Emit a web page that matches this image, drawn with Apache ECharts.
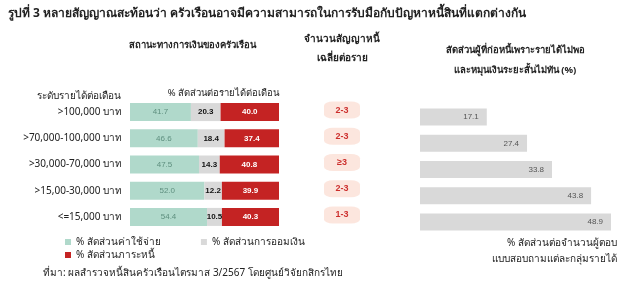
<!DOCTYPE html>
<html><head><meta charset="utf-8">
<script src="https://cdn.jsdelivr.net/npm/echarts@6/dist/echarts.min.js"></script>
<style>html,body{margin:0;padding:0;background:#fff}#c{width:640px;height:289px}</style>
</head><body><div id="c"></div>
<script>
var categories = ['>100,000 บาท', '>70,000-100,000 บาท', '>30,000-70,000 บาท', '>15,00-30,000 บาท', '<=15,000 บาท'];
var expense = [41.7, 46.6, 47.5, 52.0, 54.4];
var saving = [20.3, 18.4, 14.3, 12.2, 10.5];
var debt = [40.0, 37.4, 40.8, 39.9, 40.3];
var contracts = ['2-3', '2-3', '≥3', '2-3', '1-3'];
var insufficient = [17.1, 27.4, 33.8, 43.8, 48.9];

var FF = 'Tahoma, "Noto Sans", "Noto Sans CJK SC", sans-serif';
function share(arr, i) { return arr[i] / (expense[i] + saving[i] + debt[i]) * 100; }
function mk(arr) { return arr.map(function (v, i) { return { value: share(arr, i), raw: v }; }); }
function lbl(color, weight) {
  return { show: true, position: 'inside', fontSize: 8, fontFamily: 'Arial, sans-serif', color: color, fontWeight: weight,
    formatter: function (p) { return p.data.raw.toFixed(1); } };
}
function txt(s, x, y, size, bold, align) {
  return { type: 'text', x: x, y: y, silent: true,
    style: { text: s, fill: '#222', textAlign: align || 'center', textVerticalAlign: 'middle',
      font: (bold ? 'bold ' : '') + size + 'px ' + FF } };
}
var chart = echarts.init(document.getElementById('c'));
chart.setOption({
  animation: false,
  textStyle: { fontFamily: FF },
  graphic: [
    txt('รูปที่ 3 หลายสัญญาณสะท้อนว่า ครัวเรือนอาจมีความสามารถในการรับมือกับปัญหาหนี้สินที่แตกต่างกัน', 8, 14, 12, true, 'left'),
    txt('สถานะทางการเงินของครัวเรือน', 192, 45, 9.5, true),
    txt('จำนวนสัญญาหนี้', 342, 39, 10, true),
    txt('เฉลี่ยต่อราย', 342, 58, 10, true),
    txt('สัดส่วนผู้ที่ก่อหนี้เพราะรายได้ไม่พอ', 515, 50, 9.5, true),
    txt('และหมุนเงินระยะสั้นไม่ทัน (%)', 515, 70, 9.5, true),
    txt('ระดับรายได้ต่อเดือน', 121, 96, 10, false, 'right'),
    txt('% สัดส่วนต่อรายได้ต่อเดือน', 279, 93, 9.5, false, 'right'),
    txt('ที่มา: ผลสำรวจหนี้สินครัวเรือนไตรมาส 3/2567 โดยศูนย์วิจัยกสิกรไทย', 43, 273, 10, false, 'left'),
    txt('% สัดส่วนต่อจำนวนผู้ตอบ', 617, 243, 10, false, 'right'),
    txt('แบบสอบถามแต่ละกลุ่มรายได้', 617, 259, 10, false, 'right')
  ],
  legend: [
    { left: 60, top: 232, itemWidth: 6, itemHeight: 6, itemGap: 40, icon: 'rect', data: ['% สัดส่วนค่าใช้จ่าย', '% สัดส่วนการออมเงิน'],
      textStyle: { fontSize: 10, color: '#222', fontFamily: FF } },
    { left: 60, top: 245, itemWidth: 6, itemHeight: 6, icon: 'rect', data: ['% สัดส่วนภาระหนี้'],
      textStyle: { fontSize: 10, color: '#222', fontFamily: FF } }
  ],
  grid: [
    { left: 130, width: 149, top: 99, height: 131 },
    { left: 324, width: 36, top: 97, height: 131 },
    { left: 420, width: 195.3, top: 104, height: 131 }
  ],
  xAxis: [
    { gridIndex: 0, type: 'value', min: 0, max: 100, show: false },
    { gridIndex: 1, type: 'category', data: ['x'], show: false },
    { gridIndex: 2, type: 'value', min: 0, max: 50, show: false }
  ],
  yAxis: [
    { gridIndex: 0, type: 'category', data: categories, inverse: true,
      axisLine: { show: false }, axisTick: { show: false },
      axisLabel: { fontSize: 10, color: '#222', margin: 8, fontFamily: FF } },
    { gridIndex: 1, type: 'category', data: categories, inverse: true, show: false },
    { gridIndex: 2, type: 'category', data: categories, inverse: true, show: false }
  ],
  series: [
    { name: '% สัดส่วนค่าใช้จ่าย', type: 'bar', stack: 's', xAxisIndex: 0, yAxisIndex: 0, barWidth: 18,
      itemStyle: { color: '#b0d9cb' }, label: lbl('#5e8f7f', 'normal'), data: mk(expense) },
    { name: '% สัดส่วนการออมเงิน', type: 'bar', stack: 's', xAxisIndex: 0, yAxisIndex: 0, barWidth: 18,
      itemStyle: { color: '#d9d9d9' }, label: lbl('#111', 'bold'), data: mk(saving) },
    { name: '% สัดส่วนภาระหนี้', type: 'bar', stack: 's', xAxisIndex: 0, yAxisIndex: 0, barWidth: 18,
      itemStyle: { color: '#c42323' }, label: lbl('#fff', 'bold'), data: mk(debt) },
    { type: 'scatter', xAxisIndex: 1, yAxisIndex: 1, symbol: 'roundRect', symbolSize: [36, 17],
      itemStyle: { color: '#fbe0d6' },
      label: { show: true, position: 'inside', fontSize: 9, fontWeight: 'bold', color: '#c00000', fontFamily: 'Arial, sans-serif',
        formatter: function (p) { return contracts[p.dataIndex]; } },
      data: categories.map(function (c) { return ['x', c]; }) },
    { type: 'bar', xAxisIndex: 2, yAxisIndex: 2, barWidth: 17, itemStyle: { color: '#d9d9d9' },
      label: { show: true, position: 'insideRight', fontSize: 8, color: '#555', distance: 8, fontFamily: 'Arial, sans-serif',
        formatter: function (p) { return p.value.toFixed(1); } },
      data: insufficient }
  ]
});
</script></body></html>
